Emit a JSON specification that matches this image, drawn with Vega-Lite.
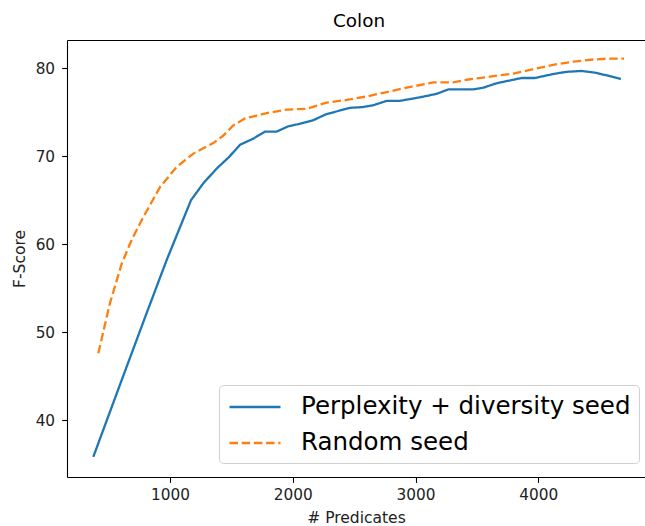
{
  "$schema": "https://vega.github.io/schema/vega-lite/v6.json",
  "width": 578,
  "height": 437,
  "autosize": {"type": "none"},
  "padding": {"left": 67, "top": 40, "right": 0, "bottom": 49},
  "background": "white",
  "title": {"text": "Colon", "fontSize": 18.4, "font": "DejaVu Sans", "fontWeight": "normal", "color": "black", "baseline": "alphabetic", "offset": -5, "dx": 3},
  "config": {
    "view": {"stroke": null},
    "font": "DejaVu Sans",
    "axis": {"grid": false, "domainColor": "black", "domainWidth": 1.1, "tickColor": "black", "tickWidth": 1.1, "tickSize": 5.4, "labelFont": "DejaVu Sans", "labelFontSize": 15.3, "labelColor": "#222", "titleFont": "DejaVu Sans", "titleFontSize": 15.5, "titleFontWeight": "normal", "titleColor": "#222"}
  },
  "data": {"values": [
    {"x": 375, "y": 35.8, "series": "Perplexity + diversity seed"},
    {"x": 600, "y": 44.3, "series": "Perplexity + diversity seed"},
    {"x": 800, "y": 51.8, "series": "Perplexity + diversity seed"},
    {"x": 973, "y": 58.2, "series": "Perplexity + diversity seed"},
    {"x": 1171, "y": 65.0, "series": "Perplexity + diversity seed"},
    {"x": 1270, "y": 66.9, "series": "Perplexity + diversity seed"},
    {"x": 1380, "y": 68.6, "series": "Perplexity + diversity seed"},
    {"x": 1480, "y": 69.9, "series": "Perplexity + diversity seed"},
    {"x": 1570, "y": 71.3, "series": "Perplexity + diversity seed"},
    {"x": 1678, "y": 72.0, "series": "Perplexity + diversity seed"},
    {"x": 1774, "y": 72.8, "series": "Perplexity + diversity seed"},
    {"x": 1869, "y": 72.8, "series": "Perplexity + diversity seed"},
    {"x": 1963, "y": 73.4, "series": "Perplexity + diversity seed"},
    {"x": 2059, "y": 73.7, "series": "Perplexity + diversity seed"},
    {"x": 2167, "y": 74.1, "series": "Perplexity + diversity seed"},
    {"x": 2276, "y": 74.8, "series": "Perplexity + diversity seed"},
    {"x": 2466, "y": 75.5, "series": "Perplexity + diversity seed"},
    {"x": 2574, "y": 75.6, "series": "Perplexity + diversity seed"},
    {"x": 2656, "y": 75.8, "series": "Perplexity + diversity seed"},
    {"x": 2765, "y": 76.3, "series": "Perplexity + diversity seed"},
    {"x": 2873, "y": 76.3, "series": "Perplexity + diversity seed"},
    {"x": 3036, "y": 76.7, "series": "Perplexity + diversity seed"},
    {"x": 3172, "y": 77.1, "series": "Perplexity + diversity seed"},
    {"x": 3267, "y": 77.6, "series": "Perplexity + diversity seed"},
    {"x": 3470, "y": 77.6, "series": "Perplexity + diversity seed"},
    {"x": 3552, "y": 77.8, "series": "Perplexity + diversity seed"},
    {"x": 3660, "y": 78.3, "series": "Perplexity + diversity seed"},
    {"x": 3864, "y": 78.9, "series": "Perplexity + diversity seed"},
    {"x": 3973, "y": 78.9, "series": "Perplexity + diversity seed"},
    {"x": 4121, "y": 79.35, "series": "Perplexity + diversity seed"},
    {"x": 4230, "y": 79.6, "series": "Perplexity + diversity seed"},
    {"x": 4352, "y": 79.7, "series": "Perplexity + diversity seed"},
    {"x": 4463, "y": 79.5, "series": "Perplexity + diversity seed"},
    {"x": 4556, "y": 79.2, "series": "Perplexity + diversity seed"},
    {"x": 4673, "y": 78.8, "series": "Perplexity + diversity seed"},
    {"x": 416, "y": 47.6, "series": "Random seed"},
    {"x": 511, "y": 53.3, "series": "Random seed"},
    {"x": 607, "y": 57.8, "series": "Random seed"},
    {"x": 688, "y": 60.5, "series": "Random seed"},
    {"x": 783, "y": 63.1, "series": "Random seed"},
    {"x": 919, "y": 66.5, "series": "Random seed"},
    {"x": 1055, "y": 68.8, "series": "Random seed"},
    {"x": 1190, "y": 70.3, "series": "Random seed"},
    {"x": 1271, "y": 70.9, "series": "Random seed"},
    {"x": 1353, "y": 71.5, "series": "Random seed"},
    {"x": 1430, "y": 72.3, "series": "Random seed"},
    {"x": 1515, "y": 73.5, "series": "Random seed"},
    {"x": 1611, "y": 74.3, "series": "Random seed"},
    {"x": 1700, "y": 74.6, "series": "Random seed"},
    {"x": 1787, "y": 74.9, "series": "Random seed"},
    {"x": 1950, "y": 75.3, "series": "Random seed"},
    {"x": 2113, "y": 75.4, "series": "Random seed"},
    {"x": 2276, "y": 76.1, "series": "Random seed"},
    {"x": 2439, "y": 76.4, "series": "Random seed"},
    {"x": 2602, "y": 76.8, "series": "Random seed"},
    {"x": 2765, "y": 77.3, "series": "Random seed"},
    {"x": 2928, "y": 77.8, "series": "Random seed"},
    {"x": 3145, "y": 78.4, "series": "Random seed"},
    {"x": 3307, "y": 78.4, "series": "Random seed"},
    {"x": 3416, "y": 78.7, "series": "Random seed"},
    {"x": 3633, "y": 79.1, "series": "Random seed"},
    {"x": 3796, "y": 79.4, "series": "Random seed"},
    {"x": 3959, "y": 79.9, "series": "Random seed"},
    {"x": 4121, "y": 80.4, "series": "Random seed"},
    {"x": 4284, "y": 80.75, "series": "Random seed"},
    {"x": 4447, "y": 81.0, "series": "Random seed"},
    {"x": 4560, "y": 81.1, "series": "Random seed"},
    {"x": 4698, "y": 81.1, "series": "Random seed"}
  ]},
  "resolve": {"axis": {"x": "independent"}},
  "layer": [
    {
      "mark": {"type": "line", "strokeWidth": 2.3, "clip": true},
      "encoding": {
        "x": {"field": "x", "type": "quantitative", "scale": {"domain": [161, 4869], "nice": false, "zero": false},
              "axis": {"values": [1000, 2000, 3000, 4000], "format": "d", "title": "# Predicates", "labelPadding": 5, "titlePadding": 8}},
        "y": {"field": "y", "type": "quantitative", "scale": {"domain": [33.52, 83.22], "nice": false, "zero": false},
              "axis": {"values": [40, 50, 60, 70, 80], "format": "d", "title": "F-Score", "labelPadding": 7, "titlePadding": 8}},
        "color": {"field": "series", "type": "nominal", "scale": {"range": ["#1f77b4", "#ff7f0e"]},
                  "legend": {"title": null, "orient": "none", "legendX": 152, "legendY": 345, "symbolType": "M-2,0H2", "symbolSize": 650, "symbolOffset": 14, "symbolStrokeWidth": 2.3, "labelFontSize": 24.5, "labelFont": "DejaVu Sans", "labelColor": "black", "labelOffset": 32, "labelLimit": 500, "rowPadding": 10, "padding": 8, "strokeColor": "#d0d0d0", "fillColor": "white", "cornerRadius": 4}},
        "strokeDash": {"field": "series", "type": "nominal", "scale": {"range": [[1, 0], [8.5, 3.7]]}, "legend": null}
      }
    },
    {
      "mark": {"type": "rule", "opacity": 0},
      "encoding": {
        "x": {"field": "x", "type": "quantitative", "axis": {"orient": "top", "labels": false, "ticks": false, "title": null, "domainColor": "black", "domainWidth": 1.1}}
      }
    }
  ]
}
